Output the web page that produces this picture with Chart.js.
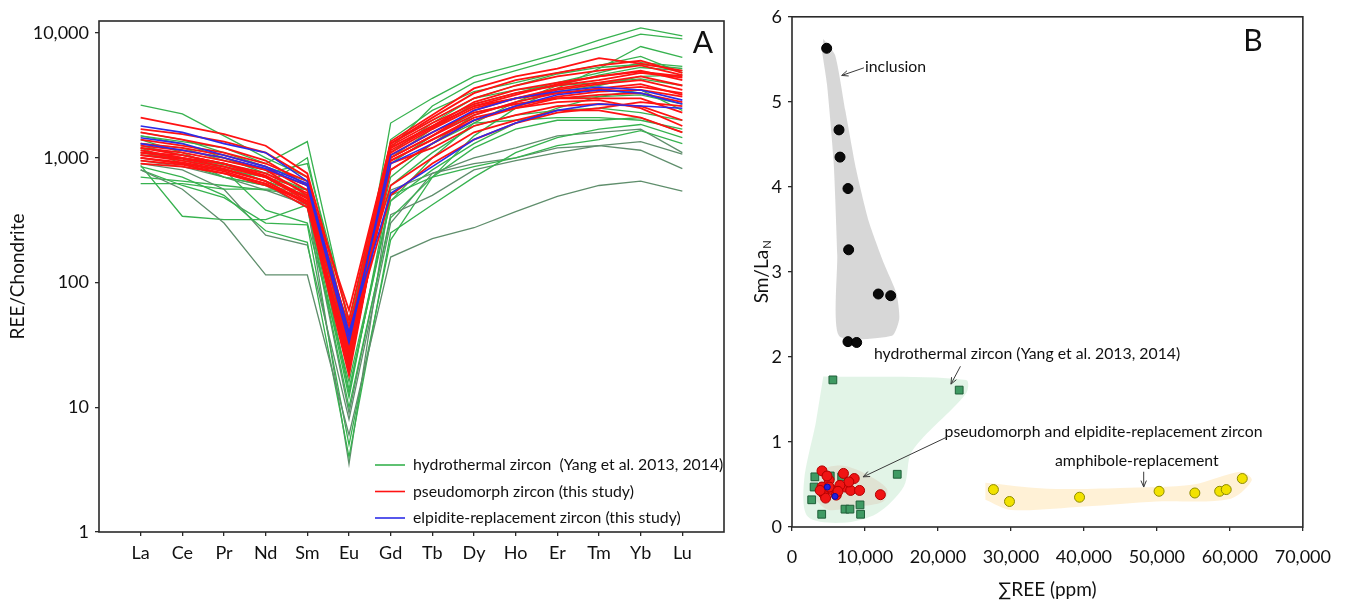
<!DOCTYPE html>
<html>
<head>
<meta charset="utf-8">
<title>Zircon REE patterns</title>
<script src="https://cdn.jsdelivr.net/npm/chart.js@4.4.1/dist/chart.umd.min.js"></script>
<style>
  html, body { margin: 0; padding: 0; background: #fff; }
  body { width: 1346px; height: 604px; position: relative; overflow: hidden; }
  .panel { position: absolute; top: 0; height: 604px; }
  #wrap-ree { left: 0; width: 740px; }
  #wrap-ratio { left: 740px; width: 606px; }
</style>
</head>
<body>
<div class="panel" id="wrap-ree"><canvas id="chart-ree"></canvas></div>
<div class="panel" id="wrap-ratio"><canvas id="chart-ratio"></canvas></div>
<script>
// ---- A: chondrite-normalised REE patterns ----
const ELEMENTS = ['La', 'Ce', 'Pr', 'Nd', 'Sm', 'Eu', 'Gd', 'Tb', 'Dy', 'Ho', 'Er', 'Tm', 'Yb', 'Lu'];
const Y_TICKS_REE = [1, 10, 100, 1000, 10000];

// hydrothermal zircon (Yang et al. 2013, 2014)
const HYDRO_PROFILES = [
  [2650, 2250, 1500, 1000, 700, 25, 1900, 3000, 4500, 5500, 6800, 8800, 11000, 9500],
  [1500, 1350, 1200, 900, 1350, 45, 1200, 2600, 4000, 5000, 6200, 7700, 9800, 9000],
  [800, 560, 300, 115, 115, 6, 160, 225, 275, 370, 490, 600, 650, 540],
  [870, 340, 320, 320, 420, 10, 330, 700, 1500, 2500, 3600, 5200, 7800, 6400],
  [620, 620, 560, 560, 560, 13, 500, 700, 850, 1000, 1250, 1400, 1650, 1300],
  [850, 700, 500, 260, 210, 4, 250, 420, 700, 1100, 1450, 1700, 1850, 1450],
  [900, 800, 560, 240, 200, 8, 300, 750, 900, 1000, 1200, 1250, 1150, 820],
  [1400, 1100, 800, 380, 300, 16, 450, 800, 1300, 1900, 2500, 3100, 3500, 2400],
  [1200, 900, 700, 600, 1000, 35, 1000, 1700, 2700, 3300, 4000, 4800, 5800, 5400],
  [1300, 1200, 950, 800, 600, 20, 900, 1500, 2300, 2700, 3000, 3100, 3200, 2700],
  [1000, 900, 800, 700, 450, 12, 600, 1100, 1800, 2200, 2400, 2500, 2300, 2000],
  [1100, 950, 850, 650, 500, 30, 700, 1300, 1900, 2000, 2100, 2100, 2000, 1700],
  [950, 850, 700, 600, 400, 9, 350, 500, 800, 950, 1100, 1250, 1350, 1070],
  [1600, 1400, 1100, 850, 650, 40, 1300, 2000, 3000, 3800, 4700, 5300, 5600, 5200],
  [800, 600, 480, 300, 290, 5, 220, 700, 1200, 1700, 2000, 2000, 2100, 1600],
  [1250, 1050, 900, 750, 900, 50, 1100, 1900, 3000, 3500, 3800, 4000, 4300, 3800],
  [1050, 1000, 880, 700, 550, 28, 800, 1300, 2200, 2800, 3400, 3800, 4500, 4600],
  [1150, 1000, 700, 550, 420, 3.5, 550, 750, 1000, 1200, 1500, 1600, 1700, 1100],
  [700, 650, 600, 550, 500, 14, 450, 1000, 1900, 2800, 3800, 4600, 5300, 5000],
  [1500, 1300, 1000, 750, 550, 22, 1400, 2400, 3400, 4000, 4800, 5500, 6500, 4800],
];

// pseudomorph zircon (this study)
const PSEUDO_PROFILES = [
  [2100, 1800, 1550, 1250, 750, 50, 1350, 2200, 3600, 4500, 5200, 6300, 5700, 5000],
  [1700, 1550, 1350, 1100, 700, 40, 1300, 2000, 3000, 3800, 4500, 5000, 5500, 4600],
  [1600, 1400, 1200, 950, 600, 35, 1200, 1800, 2800, 3500, 4000, 4500, 5000, 4200],
  [1300, 1200, 1050, 850, 550, 30, 1100, 1700, 2500, 3000, 3600, 4000, 4500, 3800],
  [1200, 1100, 950, 800, 500, 22, 1000, 1500, 2200, 2800, 3300, 3600, 3900, 3200],
  [1150, 1000, 900, 700, 450, 20, 950, 1400, 2000, 2500, 3000, 3200, 3300, 2800],
  [1100, 1000, 850, 700, 480, 25, 1250, 1900, 2700, 3300, 3800, 4200, 4800, 4400],
  [1050, 950, 820, 650, 420, 18, 1050, 1600, 2300, 2700, 3000, 3000, 3000, 2300],
  [1000, 900, 780, 620, 400, 28, 900, 1200, 1800, 2200, 2600, 2700, 2600, 2000],
  [950, 880, 750, 600, 450, 45, 600, 1000, 1600, 2000, 2400, 2400, 2100, 1600],
  [1250, 1150, 1000, 800, 600, 60, 1300, 2100, 3300, 4200, 4800, 5500, 6000, 4800],
  [1400, 1250, 1100, 900, 650, 38, 1150, 1750, 2600, 3200, 3900, 4500, 4900, 4500],
  [900, 850, 750, 620, 430, 24, 800, 1300, 2000, 2600, 3100, 3400, 3500, 3100],
  [1100, 1050, 900, 750, 520, 32, 500, 900, 1400, 1900, 2300, 2500, 2800, 2600],
  [1200, 1050, 900, 720, 480, 20, 1000, 1500, 2400, 3000, 3500, 3900, 4200, 3500],
  [1050, 980, 850, 700, 470, 36, 1200, 1800, 2600, 3000, 3300, 3500, 3700, 3300],
  [1000, 920, 800, 650, 440, 27, 950, 1400, 2100, 2500, 2800, 2900, 2500, 1800],
];

// elpidite-replacement zircon (this study)
const ELPIDITE_PROFILES = [
  [1800, 1600, 1300, 1100, 650, 37, 900, 1300, 2000, 2600, 3200, 3500, 3300, 2700],
  [1450, 1300, 1050, 850, 620, 40, 520, 850, 1400, 1900, 2400, 2700, 2600, 2500],
  [1300, 1150, 1000, 820, 600, 33, 1050, 1600, 2400, 3000, 3400, 3700, 3500, 2900],
];

// ---- B: Sm/La(N) against total REE ----
const INCLUSION_PTS = [[4750, 5.63], [6440, 4.67], [6580, 4.35], [7670, 3.98], [7760, 3.26], [11830, 2.74], [13520, 2.72], [7670, 2.18], [8860, 2.17]];
const HYDRO_PTS = [[5600, 1.73], [22910, 1.61], [14420, 0.62], [3130, 0.59], [5240, 0.60], [6810, 0.59], [3030, 0.47], [2700, 0.32], [7260, 0.21], [7940, 0.21], [9320, 0.26], [9400, 0.15], [4070, 0.15]];
const PSEUDO_PTS = [[4110, 0.66], [7050, 0.63], [8530, 0.57], [5090, 0.55], [4110, 0.47], [4350, 0.39], [5580, 0.43], [7300, 0.47], [8040, 0.43], [9260, 0.43], [6070, 0.375], [4600, 0.34], [12110, 0.38], [3860, 0.43], [5090, 0.47], [7790, 0.53], [6560, 0.49], [4800, 0.60], [6300, 0.42]];
const ELPIDITE_PTS = [[5890, 0.36], [4840, 0.47]];
const AMPHIBOLE_PTS = [[27600, 0.44], [29800, 0.30], [39400, 0.35], [50300, 0.42], [55200, 0.40], [58600, 0.42], [59500, 0.44], [61700, 0.57]];

// outlines of the shaded fields
const INCLUSION_FIELD = [[4300, 5.74], [5900, 5.55], [7300, 4.90], [8800, 4.20], [10500, 3.60], [12600, 3.10], [14300, 2.75], [14700, 2.45], [13700, 2.25], [6440, 2.25], [6200, 3.20], [5700, 4.30], [4800, 5.20], [4100, 5.60]];
const HYDRO_FIELD = [[4290, 1.77], [23840, 1.73], [23840, 1.57], [16440, 0.89], [15340, 0.48], [11640, 0.16], [6930, 0.05], [2190, 0.12], [1640, 0.53], [3230, 1.21]];
const PSEUDO_FIELD = [[3300, 0.45], [4500, 0.68], [7000, 0.72], [10000, 0.63], [13000, 0.45], [12500, 0.30], [9000, 0.24], [5000, 0.20], [3400, 0.30]];
const AMPHIBOLE_FIELD = [[26500, 0.52], [35000, 0.45], [45000, 0.46], [55000, 0.50], [61500, 0.65], [63000, 0.55], [60000, 0.33], [50000, 0.30], [40000, 0.24], [30000, 0.20], [26500, 0.32]];

const Chart = window.Chart;
const FONT = "Lato, 'Open Sans', 'DejaVu Sans', sans-serif";
const C = {
  green: '#37b24f',
  greenDark: '#5f8e6c',
  red: '#ff1212',
  blue: '#2c2ce8',
  axis: '#2a2a2a',
  text: '#111',
};
Chart.defaults.font.family = FONT;
Chart.defaults.color = C.text;

const tickFont = { family: FONT, size: 18 };
const noteFont = `15.8px ${FONT}`;
const axisGrid = { drawOnChartArea: false, drawTicks: true, tickLength: 4, color: C.axis, lineWidth: 1.3 };

// box around the plotting area
const frame = {
  id: 'frame',
  afterDatasetsDraw(chart) {
    const { ctx, chartArea: a } = chart;
    ctx.save();
    ctx.strokeStyle = C.axis;
    ctx.lineWidth = 1.6;
    ctx.strokeRect(a.left, a.top, a.right - a.left, a.bottom - a.top);
    ctx.restore();
  },
};

function panelTag(letter, dx, dy) {
  return {
    id: 'tag' + letter,
    afterDraw(chart) {
      const { ctx, chartArea: a } = chart;
      ctx.save();
      ctx.font = `30px ${FONT}`;
      ctx.fillStyle = C.text;
      ctx.textAlign = 'center';
      ctx.textBaseline = 'middle';
      ctx.fillText(letter, a.right - dx, a.top + dy);
      ctx.restore();
    },
  };
}

// legend sits inside the plot, bottom right
const legendRee = {
  id: 'legendRee',
  afterDraw(chart) {
    const { ctx, chartArea: a } = chart;
    const rows = [
      ['hydrothermal zircon  (Yang et al. 2013, 2014)', C.green],
      ['pseudomorph zircon (this study)', C.red],
      ['elpidite-replacement zircon (this study)', C.blue],
    ];
    ctx.save();
    ctx.font = noteFont;
    ctx.textBaseline = 'middle';
    ctx.fillStyle = C.text;
    rows.forEach(([label, color], i) => {
      const y = a.bottom - 67 + i * 26.5;
      ctx.strokeStyle = color;
      ctx.lineWidth = 1.6;
      ctx.beginPath();
      ctx.moveTo(a.left + 276, y);
      ctx.lineTo(a.left + 306, y);
      ctx.stroke();
      ctx.fillText(label, a.left + 314, y);
    });
    ctx.restore();
  },
};

function profileSet(values, color, width, order) {
  return {
    data: values.map((y, i) => ({ x: i, y })),
    borderColor: color,
    borderWidth: width,
    pointRadius: 0,
    tension: 0,
    order,
  };
}

const DARK_HYDRO = [2, 6, 12, 17];
const reeSets = [
  ...ELPIDITE_PROFILES.map((p) => profileSet(p, C.blue, 1.6, 0)),
  ...PSEUDO_PROFILES.map((p) => profileSet(p, C.red, 1.8, 1)),
  ...HYDRO_PROFILES.map((p, i) => profileSet(p, DARK_HYDRO.includes(i) ? C.greenDark : C.green, 1.3, 2)),
];

new Chart(document.getElementById('chart-ree'), {
  type: 'line',
  data: { datasets: reeSets },
  options: {
    animation: false,
    events: [],
    responsive: true,
    maintainAspectRatio: false,
    layout: { padding: { left: 0, top: 21, right: 16, bottom: 0 } },
    plugins: { legend: { display: false }, tooltip: { enabled: false } },
    scales: {
      x: {
        type: 'linear',
        min: -1,
        max: 14,
        afterBuildTicks: (s) => { s.ticks = ELEMENTS.map((_, i) => ({ value: i })); },
        afterFit: (s) => { s.height = 72; },
        ticks: { callback: (v) => ELEMENTS[v], font: tickFont, color: C.text, padding: 6, maxRotation: 0, autoSkip: false },
        grid: axisGrid,
        border: { display: false },
      },
      y: {
        type: 'logarithmic',
        min: 1,
        max: 12500,
        afterBuildTicks: (s) => { s.ticks = Y_TICKS_REE.map((v) => ({ value: v })); },
        afterFit: (s) => { s.width = 99; },
        ticks: { callback: (v) => Number(v).toLocaleString('en-US'), font: tickFont, color: C.text, padding: 6 },
        grid: axisGrid,
        border: { display: false },
        title: { display: true, text: 'REE/Chondrite', font: { family: FONT, size: 19 }, color: C.text, padding: { top: 6, bottom: 0 } },
      },
    },
  },
  plugins: [frame, legendRee, panelTag('A', 21, 22)],
});

// ---- B ----
const xy = (pts) => pts.map(([x, y]) => ({ x, y }));

function fieldSet(pts, color, tension) {
  return {
    data: xy(pts),
    showLine: true,
    fill: 'shape',
    backgroundColor: color,
    borderColor: 'transparent',
    borderWidth: 0,
    pointRadius: 0,
    tension,
    order: 10,
  };
}

function pointSet(pts, fill, stroke, radius, style, order) {
  return {
    data: xy(pts),
    showLine: false,
    pointStyle: style,
    pointRadius: radius,
    backgroundColor: fill,
    borderColor: stroke,
    borderWidth: 1,
    order,
  };
}

function arrow(ctx, x1, y1, x2, y2) {
  const ang = Math.atan2(y2 - y1, x2 - x1);
  const h = 7;
  ctx.beginPath();
  ctx.moveTo(x1, y1);
  ctx.lineTo(x2, y2);
  ctx.moveTo(x2 - h * Math.cos(ang - 0.4), y2 - h * Math.sin(ang - 0.4));
  ctx.lineTo(x2, y2);
  ctx.lineTo(x2 - h * Math.cos(ang + 0.4), y2 - h * Math.sin(ang + 0.4));
  ctx.stroke();
}

// field labels with their pointer arrows, anchored in data units
const NOTES = [
  { text: 'inclusion', at: [10000, 5.41], from: [9860, 5.40], to: [6810, 5.31] },
  { text: 'hydrothermal zircon (Yang et al. 2013, 2014)', at: [11230, 2.03], from: [23080, 1.89], to: [21780, 1.68] },
  { text: 'pseudomorph and elpidite-replacement zircon', at: [20900, 1.12], from: [21290, 1.06], to: [9750, 0.59] },
  { text: 'amphibole-replacement', at: [36030, 0.775], from: [48190, 0.65], to: [48190, 0.47] },
];

const notesRatio = {
  id: 'notesRatio',
  afterDatasetsDraw(chart) {
    const { ctx, scales: { x, y } } = chart;
    ctx.save();
    ctx.font = noteFont;
    ctx.fillStyle = C.text;
    ctx.strokeStyle = '#3a3a3a';
    ctx.lineWidth = 1;
    ctx.textBaseline = 'middle';
    NOTES.forEach((n) => {
      ctx.fillText(n.text, x.getPixelForValue(n.at[0]), y.getPixelForValue(n.at[1]));
      arrow(ctx, x.getPixelForValue(n.from[0]), y.getPixelForValue(n.from[1]),
        x.getPixelForValue(n.to[0]), y.getPixelForValue(n.to[1]));
    });
    ctx.restore();
  },
};

// y title with a subscript N
const ratioTitle = {
  id: 'ratioTitle',
  afterDraw(chart) {
    const { ctx, chartArea: a } = chart;
    ctx.save();
    ctx.translate(a.left - 30, (a.top + a.bottom) / 2);
    ctx.rotate(-Math.PI / 2);
    ctx.fillStyle = C.text;
    ctx.textBaseline = 'middle';
    ctx.font = `19px ${FONT}`;
    const w1 = ctx.measureText('Sm/La').width;
    ctx.font = `11px ${FONT}`;
    const w2 = ctx.measureText('N').width;
    const x0 = -(w1 + w2 + 1) / 2;
    ctx.font = `19px ${FONT}`;
    ctx.fillText('Sm/La', x0, 0);
    ctx.font = `11px ${FONT}`;
    ctx.fillText('N', x0 + w1 + 1, 5);
    ctx.restore();
  },
};

new Chart(document.getElementById('chart-ratio'), {
  type: 'scatter',
  data: {
    datasets: [
      fieldSet(INCLUSION_FIELD, 'rgba(200,200,200,0.72)', 0.2),
      fieldSet(HYDRO_FIELD, 'rgba(185,228,198,0.42)', 0.3),
      fieldSet(PSEUDO_FIELD, 'rgba(245,195,185,0.5)', 0.3),
      fieldSet(AMPHIBOLE_FIELD, 'rgba(255,225,165,0.45)', 0.3),
      pointSet(HYDRO_PTS, '#3f9a63', '#1f5e38', 5.5, 'rect', 4),
      pointSet(PSEUDO_PTS, '#f01414', '#b00000', 5, 'circle', 3),
      pointSet(ELPIDITE_PTS, '#2020e0', '#1010a0', 3, 'circle', 2),
      pointSet(INCLUSION_PTS, '#0a0a0a', '#000', 5, 'circle', 1),
      pointSet(AMPHIBOLE_PTS, '#f2e200', '#8c8a00', 5, 'circle', 1),
    ],
  },
  options: {
    animation: false,
    events: [],
    responsive: true,
    maintainAspectRatio: false,
    layout: { padding: { left: 0, top: 15, right: 43, bottom: 0 } },
    plugins: { legend: { display: false }, tooltip: { enabled: false } },
    scales: {
      x: {
        type: 'linear',
        min: 0,
        max: 70000,
        afterFit: (s) => { s.height = 77; },
        ticks: { stepSize: 10000, callback: (v) => Number(v).toLocaleString('en-US'), font: tickFont, color: C.text, padding: 15, maxRotation: 0 },
        grid: axisGrid,
        border: { display: false },
        title: { display: true, text: '∑REE (ppm)', font: { family: FONT, size: 19 }, color: C.text, padding: { top: 0, bottom: 3 } },
      },
      y: {
        type: 'linear',
        min: 0,
        max: 6,
        afterFit: (s) => { s.width = 52; },
        ticks: { stepSize: 1, font: tickFont, color: C.text, padding: 6 },
        grid: axisGrid,
        border: { display: false },
      },
    },
  },
  plugins: [frame, notesRatio, ratioTitle, panelTag('B', 50, 25)],
});
</script>
</body>
</html>
